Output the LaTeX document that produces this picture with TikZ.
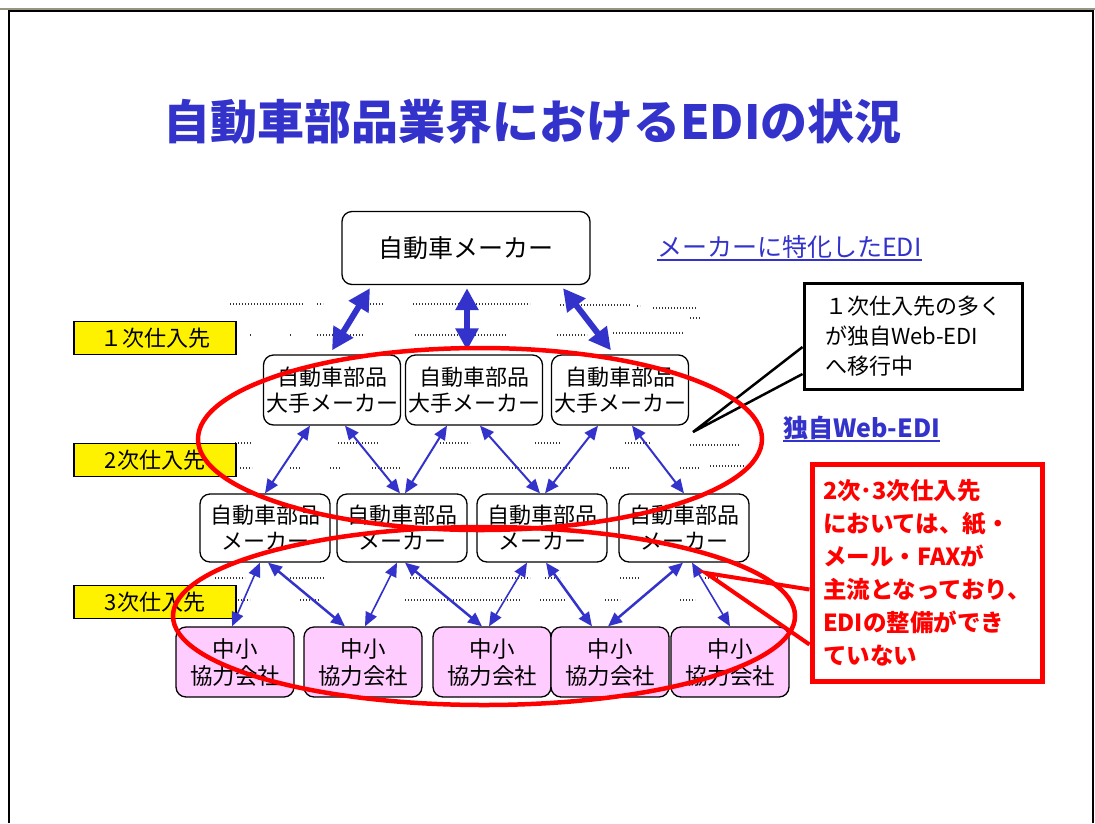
\documentclass[tikz,border=0pt]{standalone}
\usepackage{fontspec}
\setmainfont{Noto Sans CJK JP}
\usetikzlibrary{arrows.meta}
\definecolor{tblue}{RGB}{51,51,204}
\definecolor{pinkf}{RGB}{255,204,255}
\definecolor{framegray}{RGB}{150,150,130}
\begin{document}
\begin{tikzpicture}[x=1pt,y=-1pt,
  box/.style={draw=black, line width=1.3pt, rounded corners=10pt, fill=white, align=center, inner sep=0pt, font=\fontsize{22}{26}\selectfont},
  tierA/.style={box, minimum width=137pt, minimum height=70pt},
  tierB/.style={box, minimum width=130pt, minimum height=68pt},
  tierC/.style={box, fill=pinkf, minimum width=118pt, minimum height=70pt, font=\fontsize{22.5}{27}\selectfont},
  lab/.style={draw=black, fill=yellow, line width=1.3pt, minimum width=162pt, minimum height=33pt, inner sep=0pt, font=\fontsize{22}{22}\selectfont},
  bigarr/.style={draw=tblue, line width=6pt, {Triangle[length=22pt,width=22pt]}-{Triangle[length=22pt,width=22pt]}},
  midarr/.style={draw=tblue, line width=2pt, {Triangle[length=14pt,width=12pt]}-{Triangle[length=14pt,width=12pt]}},
  lowarr/.style={draw=tblue, line width=2.5pt, {Triangle[length=14pt,width=12pt]}-{Triangle[length=14pt,width=12pt]}},
  dotrow/.style={draw=black!80, line width=1.3pt, dash pattern=on 1.3pt off 1.7pt},
  redring/.style={draw=red, line width=4.5pt},
  linktext/.style={text=tblue, inner sep=0pt, anchor=base west},
  uline/.style={draw=tblue, line width=1.5pt}
]
\useasboundingbox (0,0) rectangle (1095,823);
\fill[white] (0,0) rectangle (1095,823);
% frame
\draw[framegray, line width=2pt] (0,8.5) -- (1095,8.5);
\draw[black, line width=2.2pt] (9,823) -- (9,11) -- (1093,11) -- (1093,823);

% title
\node[anchor=west, inner sep=0pt, text=tblue, font=\fontsize{47}{47}\selectfont\bfseries] (title) at (163,122) {自動車部品業界におけるEDIの状況};

% dotted rows
\foreach \a/\b/\y in {230/303/304, 317/323/304, 370/383/304, 413/530/304, 560/630/305, 637/640/306, 653/697/308, 690/700/318,
  250/252/335, 290/292/335, 317/363/335, 415/507/335, 557/587/335, 613/683/333,
  235/252/443, 338/378/443, 440/470/443, 535/560/443, 625/650/443, 690/740/445,
  240/252/468, 290/300/468, 330/340/468, 372/400/468, 440/570/468, 610/630/468, 680/700/468, 710/745/466,
  215/245/578, 290/325/578, 410/530/578, 545/560/578, 620/640/578, 705/720/578,
  232/250/600, 300/320/600, 405/520/600, 540/565/600, 605/620/600, 680/695/600}
  \draw[dotrow] (\a,\y) -- (\b,\y);

% top node
\node[box, minimum width=248pt, minimum height=73pt, font=\fontsize{25}{25}\selectfont] (T) at (466,248) {自動車メーカー};

% links
\node[linktext, font=\fontsize{25}{25}\selectfont] (L1) at (657,256) {メーカーに特化したEDI};
\draw[uline] ([yshift=-4pt]L1.base west) -- ([yshift=-4pt]L1.base east);
\node[linktext, font=\fontsize{25}{25}\selectfont\bfseries] (L2) at (783,437) {独自Web-EDI};
\draw[uline] ([yshift=-4pt]L2.base west) -- ([yshift=-4pt]L2.base east);

% yellow labels
\node[lab] (Y1) at (155,338) {１次仕入先};
\node[lab] (Y2) at (155,460) {2次仕入先};
\node[lab] (Y3) at (155,602) {3次仕入先};

% tier 1
\node[tierA] (A1) at (332,390) {自動車部品\\大手メーカー};
\node[tierA] (A2) at (474,390) {自動車部品\\大手メーカー};
\node[tierA] (A3) at (620,390) {自動車部品\\大手メーカー};
% tier 2
\node[tierB] (B1) at (265,528) {自動車部品\\メーカー};
\node[tierB] (B2) at (402,528) {自動車部品\\メーカー};
\node[tierB] (B3) at (542,528) {自動車部品\\メーカー};
\node[tierB] (B4) at (684,528) {自動車部品\\メーカー};
% tier 3
\node[tierC] (C1) at (235,662) {中小\\協力会社};
\node[tierC] (C2) at (363,662) {中小\\協力会社};
\node[tierC] (C3) at (492,662) {中小\\協力会社};
\node[tierC] (C4) at (610,662) {中小\\協力会社};
\node[tierC] (C5) at (730,662) {中小\\協力会社};

% arrows top -> tier1
\draw[bigarr] ([xshift=-96pt,yshift=-3pt]T.south) -- ([yshift=4pt]A1.north);
\draw[bigarr] ([xshift=1pt,yshift=-3pt]T.south) -- ([xshift=-7pt,yshift=4pt]A2.north);
\draw[bigarr] ([xshift=97pt,yshift=-3pt]T.south) -- ([xshift=-9pt,yshift=4pt]A3.north);

% tier1 -> tier2
\draw[midarr] ([xshift=-22pt]A1.south) -- (B1.north);
\draw[midarr] ([xshift=13pt]A1.south) -- ([xshift=-2pt]B2.north);
\draw[midarr] ([xshift=-27pt]A2.south) -- ([xshift=3pt]B2.north);
\draw[midarr] ([xshift=6pt]A2.south) -- ([xshift=-2pt]B3.north);
\draw[midarr] ([xshift=-22pt]A3.south) -- ([xshift=3pt]B3.north);
\draw[midarr] ([xshift=12pt]A3.south) -- (B4.north);

% tier2 -> tier3
\draw[lowarr, line width=1.6pt] ([xshift=-5pt]B1.south) -- ([xshift=-3pt]C1.north);
\draw[lowarr] ([xshift=3pt]B1.south) -- ([xshift=-18pt]C2.north);
\draw[lowarr, line width=1.6pt] ([xshift=-5pt]B2.south) -- ([xshift=2pt]C2.north);
\draw[lowarr] ([xshift=3pt]B2.south) -- ([xshift=-10pt]C3.north);
\draw[lowarr, line width=1.6pt] ([xshift=-15pt]B3.south) -- ([xshift=-3pt]C3.north);
\draw[lowarr] ([xshift=4pt]B3.south) -- ([xshift=-18pt]C4.north);
\draw[lowarr] ([xshift=-1pt]B4.south) -- ([xshift=-2pt]C4.north);
\draw[lowarr, line width=1.6pt] ([xshift=8pt]B4.south) -- (C5.north);

% callout 1
\node[draw=black, line width=3pt, fill=white, minimum width=218pt, minimum height=106pt, inner sep=0pt, align=left, font=\fontsize{22}{30}\selectfont] (K1) at (913,336) {１次仕入先の多く\\が独自Web-EDI\\へ移行中};
\coordinate (K1tip) at (693,432);
\draw[black, line width=2.5pt, line join=miter] ([yshift=-11pt]K1.west) -- (K1tip) -- ([yshift=-38pt]K1.west);

% red ellipses
\node[draw=none, inner sep=0pt] (E1) at (480,439) {};
\node[draw=none, inner sep=0pt] (E2) at (484,616) {};
\draw[redring] (E1) ellipse [x radius=282pt, y radius=91pt];
\draw[redring] (E2) ellipse [x radius=311pt, y radius=89pt];

% red callout
\node[draw=red, line width=5pt, fill=white, minimum width=230pt, minimum height=217pt, inner sep=0pt, align=left, text=red, font=\fontsize{23.5}{33}\selectfont\bfseries] (K2) at (927,572.5) {2次･3次仕入先\\においては、紙・\\メール・FAXが\\主流となっており、\\EDIの整備ができ\\ていない};
\coordinate (K2tip) at (706,573);
\draw[red, line width=4pt, line join=miter] ([yshift=-17pt]K2.west) -- (K2tip) -- ([yshift=-72pt]K2.west);
\end{tikzpicture}
\end{document}
